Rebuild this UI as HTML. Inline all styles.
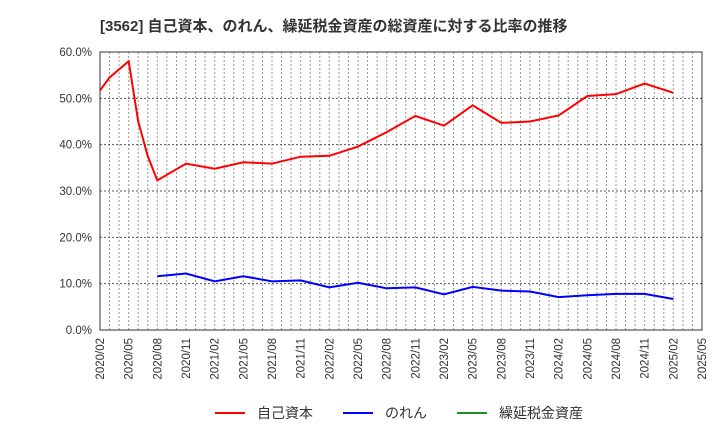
<!DOCTYPE html>
<html><head><meta charset="utf-8"><style>
body{margin:0;background:#fff;font-family:"Liberation Sans","Noto Sans CJK JP",sans-serif;}
</style></head><body>
<svg width="720" height="440" xmlns="http://www.w3.org/2000/svg" font-family="Liberation Sans, Noto Sans CJK JP, sans-serif">
<text x="100" y="31" font-size="15" font-weight="bold" fill="#333">[3562]  自己資本、のれん、繰延税金資産の総資産に対する比率の推移</text>
<g id="grid"></g>
<g id="axes"></g>
<g id="series"></g>
<g>
<line x1="215" y1="413" x2="245" y2="413" stroke="#f00" stroke-width="2"/>
<text x="257" y="418" font-size="14" fill="#333">自己資本</text>
<line x1="343" y1="413" x2="373" y2="413" stroke="#00f" stroke-width="2"/>
<text x="385" y="418" font-size="14" fill="#333">のれん</text>
<line x1="457" y1="413" x2="487" y2="413" stroke="#228b22" stroke-width="2"/>
<text x="499" y="418" font-size="14" fill="#333">繰延税金資産</text>
</g>
</svg>
<script>
const tickLabels=["2020/02","2020/05","2020/08","2020/11","2021/02","2021/05","2021/08","2021/11","2022/02","2022/05","2022/08","2022/11","2023/02","2023/05","2023/08","2023/11","2024/02","2024/05","2024/08","2024/11","2025/02","2025/05"];
const yTicks=[0,10,20,30,40,50,60];
const equityMonths=[0,1,3,4,5,6,9,12,15,18,21,24,27,30,33,36,39,42,45,48,51,54,57,60];
const equityValues=[51.7,54.5,58.0,45.0,37.5,32.3,35.9,34.8,36.2,35.9,37.4,37.6,39.6,42.7,46.2,44.1,48.5,44.7,45.0,46.3,50.5,50.9,53.2,51.2];
const goodwillMonths=[6,9,12,15,18,21,24,27,30,33,36,39,42,45,48,51,54,57,60];
const goodwillValues=[11.6,12.2,10.5,11.6,10.5,10.7,9.2,10.2,9.0,9.2,7.7,9.3,8.5,8.3,7.1,7.5,7.8,7.8,6.7];
const X0=100,X1=702,Y0=330,Y1=52,NM=63;
const xs=m=>X0+(X1-X0)*m/NM;
const ys=v=>Y0-(Y0-Y1)*v/60;
const NS="http://www.w3.org/2000/svg";
function mk(t,a,p){const e=document.createElementNS(NS,t);for(const k in a)e.setAttribute(k,a[k]);p.appendChild(e);return e;}
const grid=document.getElementById('grid'),axes=document.getElementById('axes'),series=document.getElementById('series');
for(let m=1;m<NM;m++){const l=mk('line',{x1:xs(m),x2:xs(m),y1:Y1,y2:Y0,stroke:'#999','stroke-dasharray':'2,2','stroke-width':1},grid);

}
yTicks.forEach(v=>{if(v>0&&v<60){const l=mk('line',{x1:X0,x2:X1,y1:ys(v),y2:ys(v),stroke:'#555','stroke-dasharray':'2,2','stroke-width':1},grid);

}
const t=mk('text',{x:X0-8,y:ys(v)+4,'text-anchor':'end','font-size':11.5,fill:'#333'},axes);t.textContent=v.toFixed(1)+'%';

});
const fr=mk('rect',{x:X0,y:Y1,width:X1-X0,height:Y0-Y1,fill:'none',stroke:'#333','stroke-width':1},axes);


tickLabels.forEach((s,i)=>{const x=xs(i*3)+4;const t=mk('text',{x:x,y:Y0+8,'text-anchor':'end','font-size':11.5,fill:'#333',transform:`rotate(-90 ${x} ${Y0+8})`},axes);t.textContent=s;

});
function line(ms,vs,c,name){const p=mk('polyline',{points:ms.map((m,i)=>xs(m)+','+ys(vs[i])).join(' '),fill:'none',stroke:c,'stroke-width':2},series);

}
line(equityMonths,equityValues,'#f00','equity-ratio-line');
line(goodwillMonths,goodwillValues,'#00f','goodwill-ratio-line');
</script>
</body></html>
